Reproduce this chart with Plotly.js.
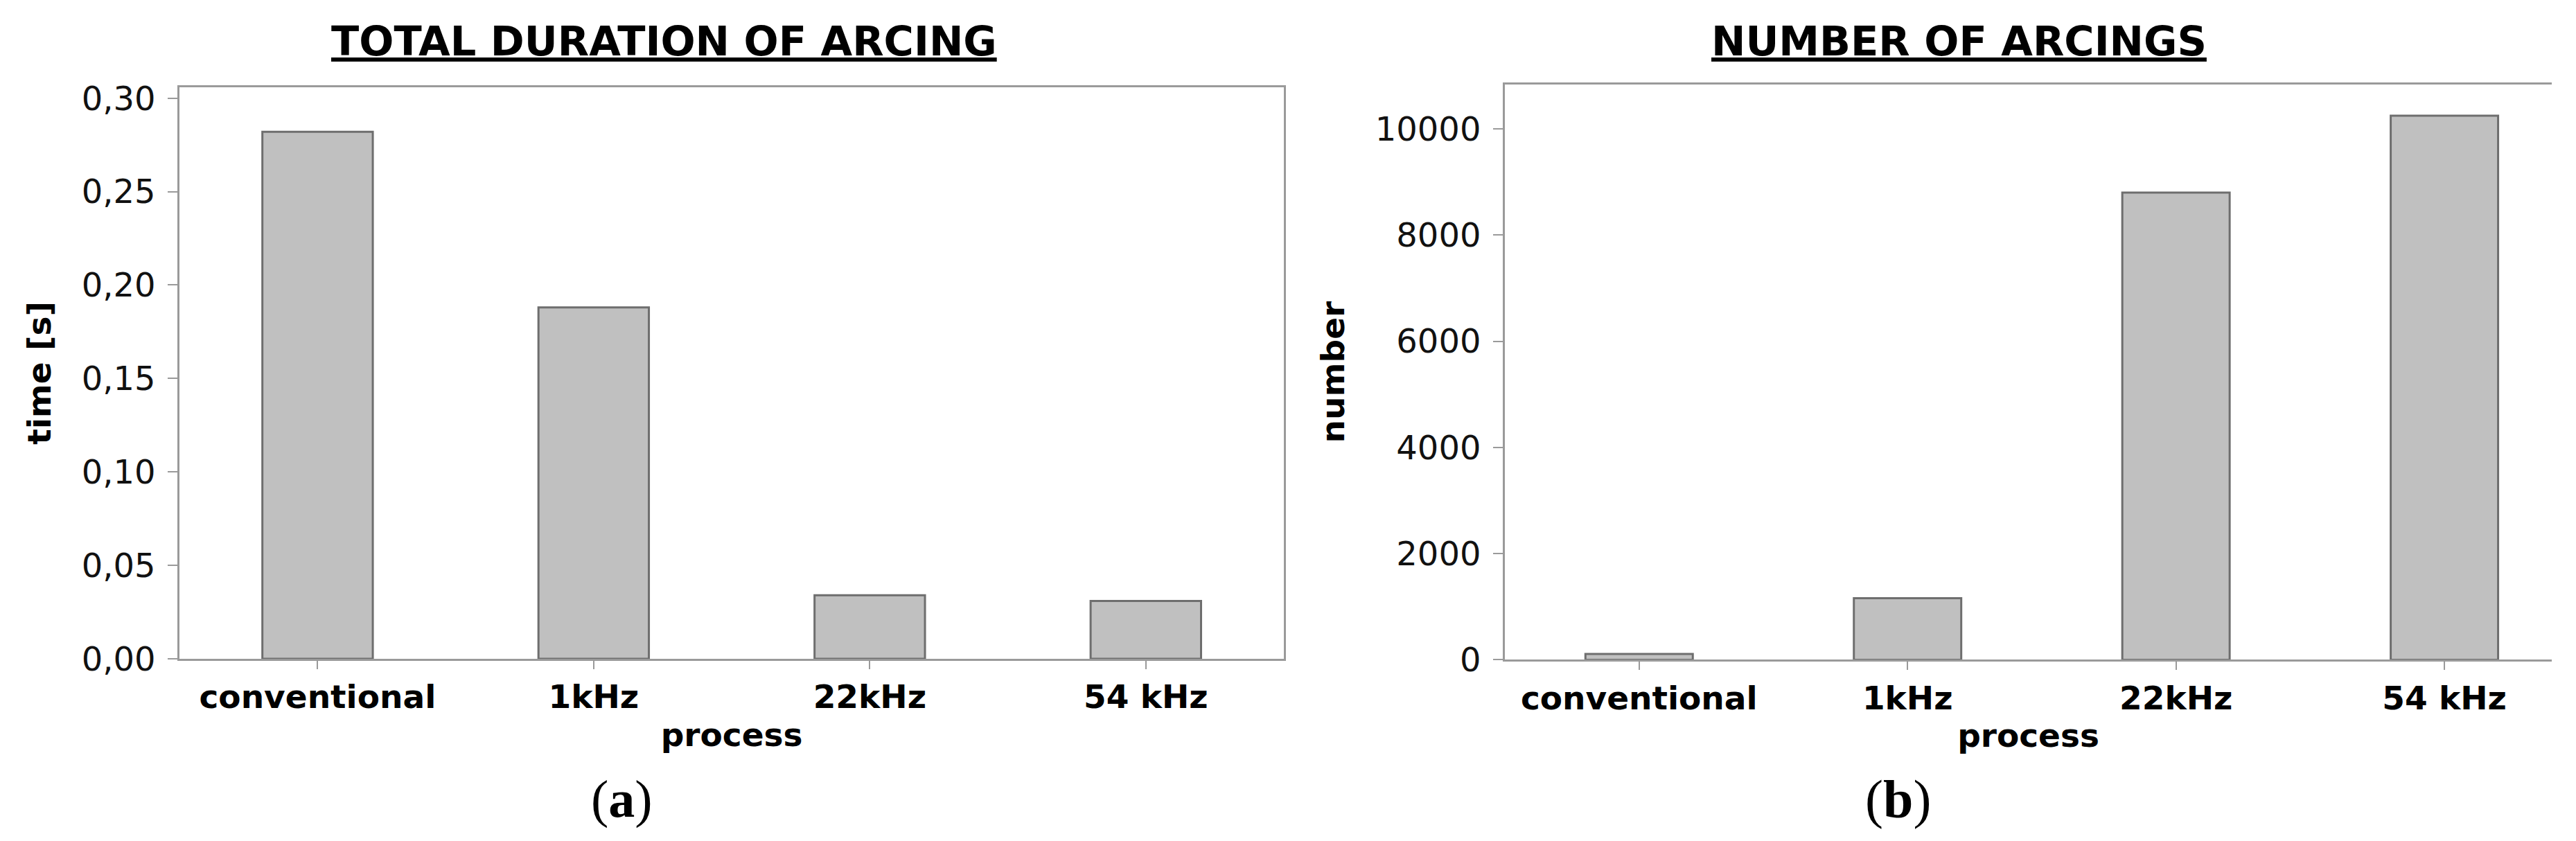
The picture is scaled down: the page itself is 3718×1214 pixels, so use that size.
<!DOCTYPE html>
<html>
<head>
<meta charset="utf-8">
<script src="https://cdn.plot.ly/plotly-3.0.1.min.js"></script>
<style>
  html, body { margin: 0; padding: 0; background: #fff; }
  #myDiv { width: 3718px; height: 1214px; }
</style>
</head>
<body>
<div id="myDiv"></div>
<script>
// categories and values
var processes = ['conventional', '1kHz', '22kHz', '54 kHz'];
var durationValues = [0.282, 0.188, 0.034, 0.031];
var arcingCounts = [110, 1160, 8800, 10250];

var barFill = '#c0c0c0';
var barEdge = '#6e6e6e';
var axisGrey = '#9a9a9a';
var font = 'DejaVu Sans, Verdana, sans-serif';

var trace1 = {
    x: processes,
    y: durationValues,
    type: 'bar',
    width: 0.4,
    marker: { color: barFill, line: { color: barEdge, width: 3 } },
    xaxis: 'x',
    yaxis: 'y',
    hoverinfo: 'x+y'
};
var trace2 = {
    x: processes,
    y: arcingCounts,
    type: 'bar',
    width: 0.4,
    marker: { color: barFill, line: { color: barEdge, width: 3 } },
    xaxis: 'x2',
    yaxis: 'y2',
    hoverinfo: 'x+y'
};

function xAxis(domain, range, anchor) {
    return {
        domain: domain,
        anchor: anchor,
        type: 'category',
        range: range,
        showline: true,
        linecolor: axisGrey,
        linewidth: 3,
        mirror: true,
        ticks: 'outside',
        ticklen: 12,
        tickwidth: 2,
        tickcolor: axisGrey,
        showgrid: false,
        zeroline: false,
        tickfont: { family: font, size: 47, color: '#000', weight: 'bold' },
        title: {
            text: '<b>process</b>',
            standoff: 12,
            font: { family: font, size: 47, color: '#000' }
        }
    };
}

function yAxis(domain, range, dtick, fmt, title, mirror, anchor) {
    return {
        domain: domain,
        anchor: anchor,
        range: range,
        dtick: dtick,
        tick0: 0,
        tickformat: fmt,
        showline: true,
        linecolor: axisGrey,
        linewidth: 3,
        mirror: mirror,
        ticks: 'outside',
        ticklen: 14,
        tickwidth: 2,
        tickcolor: axisGrey,
        ticklabelstandoff: 8,
        showgrid: false,
        zeroline: false,
        tickfont: { family: font, size: 48, color: '#111' },
        title: {
            text: '<b>' + title + '</b>',
            standoff: 30,
            font: { family: font, size: 47, color: '#000' }
        }
    };
}

var layout = {
    width: 3718,
    height: 1214,
    margin: { l: 0, r: 0, t: 0, b: 0 },
    paper_bgcolor: '#fff',
    plot_bgcolor: '#fff',
    showlegend: false,
    separators: ',.',
    bargap: 0.6,
    xaxis: xAxis([0.0697, 0.4984], [-0.5, 3.5], 'y'),
    yaxis: yAxis([0.2166, 0.8964], [0, 0.3059], 0.05, '.2f', 'time [s]', true, 'x'),
    xaxis2: xAxis([0.5842, 0.9906], [-0.5, 3.4], 'y2'),
    yaxis2: yAxis([0.2155, 0.8997], [0, 10839], 2000, 'd', 'number', false, 'x2'),
    annotations: [
        {
            text: '<b><u>TOTAL DURATION OF ARCING</u></b>',
            xref: 'paper', yref: 'paper',
            x: 0.2579, y: 0.951,
            xanchor: 'center', yanchor: 'middle',
            showarrow: false,
            font: { family: font, size: 59, color: '#000' }
        },
        {
            text: '<b><u>NUMBER OF ARCINGS</u></b>',
            xref: 'paper', yref: 'paper',
            x: 0.7604, y: 0.951,
            xanchor: 'center', yanchor: 'middle',
            showarrow: false,
            font: { family: font, size: 59, color: '#000' }
        },
        {
            text: '(<b>a</b>)',
            xref: 'paper', yref: 'paper',
            x: 0.2413, y: 0.0500,
            xanchor: 'center', yanchor: 'middle',
            showarrow: false,
            font: { family: 'Liberation Serif, Times New Roman, serif', size: 76, color: '#000' }
        },
        {
            text: '(<b>b</b>)',
            xref: 'paper', yref: 'paper',
            x: 0.7367, y: 0.0500,
            xanchor: 'center', yanchor: 'middle',
            showarrow: false,
            font: { family: 'Liberation Serif, Times New Roman, serif', size: 78, color: '#000' }
        }
    ]
};

Plotly.newPlot('myDiv', [trace1, trace2], layout, { staticPlot: true });
</script>
</body>
</html>
